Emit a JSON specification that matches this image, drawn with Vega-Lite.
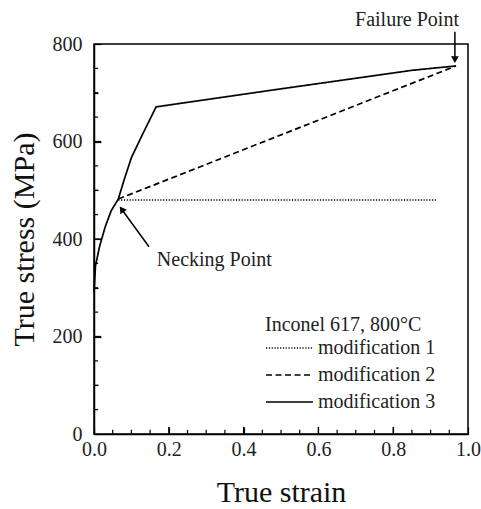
{
  "$schema": "https://vega.github.io/schema/vega-lite/v6.json",
  "width": 374,
  "height": 390,
  "autosize": {"type": "none"},
  "padding": {"left": 94, "top": 44, "right": 13, "bottom": 75},
  "background": "white",
  "config": {
    "font": "Liberation Serif",
    "view": {"stroke": "black", "strokeWidth": 1.5}
  },
  "datasets": {
    "curves": [
      {"series": "modification 3", "strain": 0.0, "stress": 290},
      {"series": "modification 3", "strain": 0.004, "stress": 345},
      {"series": "modification 3", "strain": 0.015, "stress": 385},
      {"series": "modification 3", "strain": 0.03, "stress": 425},
      {"series": "modification 3", "strain": 0.046, "stress": 458},
      {"series": "modification 3", "strain": 0.065, "stress": 482},
      {"series": "modification 3", "strain": 0.08, "stress": 520},
      {"series": "modification 3", "strain": 0.1, "stress": 567},
      {"series": "modification 3", "strain": 0.13, "stress": 615},
      {"series": "modification 3", "strain": 0.166, "stress": 671},
      {"series": "modification 3", "strain": 0.5, "stress": 708},
      {"series": "modification 3", "strain": 0.85, "stress": 746},
      {"series": "modification 3", "strain": 0.968, "stress": 755},
      {"series": "modification 2", "strain": 0.065, "stress": 482},
      {"series": "modification 2", "strain": 0.968, "stress": 755},
      {"series": "modification 1", "strain": 0.065, "stress": 480},
      {"series": "modification 1", "strain": 0.916, "stress": 480}
    ],
    "arrows": [
      {"label": "Failure Point", "x1": 0.965, "y1": 825, "x2": 0.965, "y2": 768, "angle": 180, "tx": 0.698, "ty": 849},
      {"label": "Necking Point", "x1": 0.147, "y1": 384, "x2": 0.074, "y2": 461, "angle": 325, "tx": 0.168, "ty": 357}
    ],
    "xMajor": [{"strain": 0.2}, {"strain": 0.4}, {"strain": 0.6}, {"strain": 0.8}],
    "xMinor": [{"strain": 0.05}, {"strain": 0.1}, {"strain": 0.15}, {"strain": 0.25}, {"strain": 0.3}, {"strain": 0.35}, {"strain": 0.45}, {"strain": 0.5}, {"strain": 0.55}, {"strain": 0.65}, {"strain": 0.7}, {"strain": 0.75}, {"strain": 0.85}, {"strain": 0.9}, {"strain": 0.95}],
    "yMajor": [{"stress": 200}, {"stress": 400}, {"stress": 600}],
    "yMinor": [{"stress": 50}, {"stress": 100}, {"stress": 150}, {"stress": 250}, {"stress": 300}, {"stress": 350}, {"stress": 450}, {"stress": 500}, {"stress": 550}, {"stress": 650}, {"stress": 700}, {"stress": 750}]
  },
  "layer": [
    {
      "data": {"name": "curves"},
      "mark": {"type": "line", "color": "black", "strokeWidth": 1.7},
      "encoding": {
        "x": {
          "field": "strain", "type": "quantitative",
          "scale": {"domain": [0, 1], "nice": false, "zero": false},
          "axis": {
            "title": "True strain", "titlePadding": 18, "grid": false,
            "domainColor": "black", "domainWidth": 1.5,
            "ticks": true, "tickColor": "black", "tickWidth": 1.2,
            "labelFont": "Liberation Serif", "labelFontSize": 20, "labelColor": "#222",
            "titleFont": "Liberation Serif", "titleFontSize": 30, "titleFontWeight": "normal", "titleColor": "#111",
            "values": [0,0.05,0.1,0.15,0.2,0.25,0.3,0.35,0.4,0.45,0.5,0.55,0.6,0.65,0.7,0.75,0.8,0.85,0.9,0.95,1.0],
            "labelExpr": "abs(datum.value*5 - round(datum.value*5)) < 0.001 ? format(datum.value, '.1f') : ''",
            "tickSize": {"condition": {"test": "abs(datum.value*5 - round(datum.value*5)) < 0.001", "value": -7}, "value": -4},
            "labelPadding": 12, "labelFlush": false
          }
        },
        "y": {
          "field": "stress", "type": "quantitative",
          "scale": {"domain": [0, 800], "nice": false},
          "axis": {
            "title": "True stress (MPa)", "titlePadding": 13, "grid": false,
            "domainColor": "black", "domainWidth": 1.5,
            "ticks": true, "tickColor": "black", "tickWidth": 1.2,
            "labelFont": "Liberation Serif", "labelFontSize": 20, "labelColor": "#222",
            "titleFont": "Liberation Serif", "titleFontSize": 30, "titleFontWeight": "normal", "titleColor": "#111",
            "values": [0,50,100,150,200,250,300,350,400,450,500,550,600,650,700,750,800],
            "labelExpr": "datum.value % 200 == 0 ? datum.value : ''",
            "tickSize": {"condition": {"test": "datum.value % 200 == 0", "value": -7}, "value": -4},
            "labelPadding": 19
          }
        },
        "strokeDash": {
          "field": "series", "type": "nominal",
          "scale": {"domain": ["modification 1", "modification 2", "modification 3"], "range": [[1.2, 1.6], [6, 3.5], [1, 0]]},
          "legend": {
            "title": "Inconel 617, 800°C", "orient": "none", "legendX": 171, "legendY": 271,
            "titleFont": "Liberation Serif", "labelFont": "Liberation Serif",
            "titleFontSize": 20, "titleFontWeight": "normal", "titleColor": "#222", "titlePadding": 3,
            "labelFontSize": 20, "labelColor": "#222", "labelOffset": 4,
            "symbolType": "stroke", "symbolSize": 2200, "symbolStrokeColor": "black", "symbolStrokeWidth": 1.6,
            "clipHeight": 20, "rowPadding": 7
          }
        }
      }
    },
    {
      "data": {"name": "xMajor"},
      "mark": {"type": "rule", "color": "black", "strokeWidth": 1.3},
      "encoding": {
        "x": {"field": "strain", "type": "quantitative"},
        "y": {"datum": 0, "type": "quantitative"},
        "y2": {"datum": 14.5}
      }
    },
    {
      "data": {"name": "xMinor"},
      "mark": {"type": "rule", "color": "black", "strokeWidth": 1.2},
      "encoding": {
        "x": {"field": "strain", "type": "quantitative"},
        "y": {"datum": 0, "type": "quantitative"},
        "y2": {"datum": 8.5}
      }
    },
    {
      "data": {"name": "yMajor"},
      "mark": {"type": "rule", "color": "black", "strokeWidth": 1.3},
      "encoding": {
        "y": {"field": "stress", "type": "quantitative"},
        "x": {"datum": 0, "type": "quantitative"},
        "x2": {"datum": 0.019}
      }
    },
    {
      "data": {"name": "yMinor"},
      "mark": {"type": "rule", "color": "black", "strokeWidth": 1.2},
      "encoding": {
        "y": {"field": "stress", "type": "quantitative"},
        "x": {"datum": 0, "type": "quantitative"},
        "x2": {"datum": 0.011}
      }
    },
    {
      "data": {"name": "arrows"},
      "mark": {"type": "rule", "color": "black", "strokeWidth": 1.5},
      "encoding": {
        "x": {"field": "x1", "type": "quantitative"},
        "y": {"field": "y1", "type": "quantitative"},
        "x2": {"field": "x2"},
        "y2": {"field": "y2"}
      }
    },
    {
      "data": {"name": "arrows"},
      "mark": {"type": "point", "shape": "triangle-up", "filled": true, "color": "black", "size": 60, "opacity": 1},
      "encoding": {
        "x": {"field": "x2", "type": "quantitative"},
        "y": {"field": "y2", "type": "quantitative"},
        "angle": {"field": "angle", "type": "quantitative", "scale": null}
      }
    },
    {
      "data": {"name": "arrows"},
      "mark": {"type": "text", "fontSize": 20, "color": "#222", "align": "left", "baseline": "middle", "font": "Liberation Serif"},
      "encoding": {
        "x": {"field": "tx", "type": "quantitative"},
        "y": {"field": "ty", "type": "quantitative"},
        "text": {"field": "label"}
      }
    }
  ]
}
